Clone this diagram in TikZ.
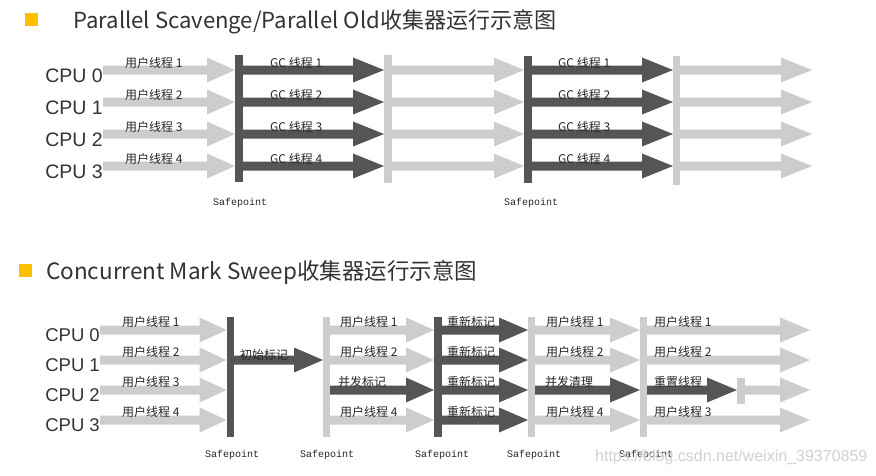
\documentclass[tikz,border=0pt]{standalone}
\usepackage{fontspec}
\setmainfont{Liberation Sans}
\newfontfamily\cjkf{Noto Sans CJK SC}
\newfontfamily\monof{Liberation Mono}
\usetikzlibrary{calc}
\definecolor{barDark}{HTML}{555555}
\definecolor{barLight}{HTML}{CDCDCD}
\definecolor{txt}{HTML}{333333}
\definecolor{bulletc}{HTML}{FFC000}
% \farrow[headlen]{from anchor}{to anchor}{row coordinate}{colour}
\newcommand\farrow[5][29]{%
  \path (#2 |- #4) coordinate (fas) (#3 |- #4) coordinate (fae);
  \fill[#5] ($(fas)+(0,-4.5)$) -- ($(fae)+(-#1,-4.5)$) -- ($(fae)+(-#1,-12.5)$) -- (fae)
    -- ($(fae)+(-#1,12.5)$) -- ($(fae)+(-#1,4.5)$) -- ($(fas)+(0,4.5)$) -- cycle;}
\tikzset{
  bar/.style={inner sep=0pt, outer sep=0pt, minimum width=#1, draw=none},
  darkbar/.style={bar=8pt, fill=barDark},
  lightbar/.style={bar=8pt, fill=barLight},
  cpu/.style={anchor=base east, inner sep=0pt, text=black!80, font=\fontsize{19.5}{22}\selectfont},
  cpub/.style={cpu, font=\fontsize{18.5}{21}\selectfont},
  lab/.style={anchor=west, inner sep=0pt, text=black!85, font=\cjkf\fontsize{12}{14}\selectfont},
  safe/.style={anchor=base west, inner sep=0pt, text=black!85, font=\monof\fontsize{10}{12}\selectfont},
  title/.style={anchor=base west, inner sep=0pt, text=txt},
  bulletsq/.style={fill=bulletc, draw=none, inner sep=0pt, minimum size=13pt},
}
\begin{document}
\begin{tikzpicture}[x=1pt,y=-1pt]
\useasboundingbox (0,0) rectangle (876,475);
\fill[white] (0,0) rectangle (876,475);

% ---------- titles ----------
\node[bulletsq] (bu1) at (31.5,19.5) {};
\node[title, font=\cjkf\fontsize{22.1}{26}\selectfont] (ti1) at (73,28) {Parallel Scavenge/Parallel Old收集器运行示意图};
\node[bulletsq] (bu2) at (25.5,270) {};
\node[title, font=\cjkf\fontsize{22.5}{27}\selectfont] (ti2) at (46,279) {Concurrent Mark Sweep收集器运行示意图};

% ---------- top diagram ----------
\coordinate (a0) at (0,70);
\coordinate (a1) at (0,102);
\coordinate (a2) at (0,134);
\coordinate (a3) at (0,166);
\coordinate (tend) at (812,0);

\node[cpu] (tc0) at (103,82) {CPU 0};
\node[cpu] (tc1) at (103,114) {CPU 1};
\node[cpu] (tc2) at (103,146) {CPU 2};
\node[cpu] (tc3) at (103,178) {CPU 3};

\node[darkbar, minimum height=127pt] (t1) at (239,118.5) {};
\node[lightbar, minimum height=128pt] (t2) at (388,119) {};
\node[darkbar, minimum height=127pt] (t3) at (528,119.5) {};
\node[lightbar, minimum height=129pt, minimum width=7pt] (t4) at (676.5,120.5) {};

\foreach \r/\c in {a0/tc0,a1/tc1,a2/tc2,a3/tc3}{
  \farrow[28]{\c.east}{t1.west}{\r}{barLight}
  \farrow[31]{t1.east}{t2.west}{\r}{barDark}
  \farrow[30]{t2.east}{t3.west}{\r}{barLight}
  \farrow[31]{t3.east}{t4.west}{\r}{barDark}
  \farrow[31]{t4.east}{tend}{\r}{barLight}
}
% redraw bars on top
\node[darkbar, minimum height=127pt] at (t1) {};
\node[lightbar, minimum height=128pt] at (t2) {};
\node[darkbar, minimum height=127pt] at (t3) {};
\node[lightbar, minimum height=129pt, minimum width=7pt] at (t4) {};

\foreach \i/\y in {1/63,2/95,3/127,4/159}{
  \node[lab] (tu\i) at (125,\y) {用户线程 \i};
  \node[lab] (tg\i) at (270,\y) {GC 线程 \i};
  \node[lab] (th\i) at (558,\y) {GC 线程 \i};
}
\node[safe] (ts1) at (213,205) {Safepoint};
\node[safe] (ts2) at (504,205) {Safepoint};

% ---------- bottom diagram ----------
\coordinate (c0) at (0,330);
\coordinate (c1) at (0,360);
\coordinate (c2) at (0,390);
\coordinate (c3) at (0,420);
\coordinate (bend) at (810,0);

\node[cpub] (bc0) at (100,341) {CPU 0};
\node[cpub] (bc1) at (100,371) {CPU 1};
\node[cpub] (bc2) at (100,401) {CPU 2};
\node[cpub] (bc3) at (100,431) {CPU 3};

\node[darkbar, minimum height=120pt, minimum width=7pt] (b1) at (230,377) {};
\node[lightbar, minimum height=120pt, minimum width=7pt] (b2) at (326.5,377) {};
\node[darkbar, minimum height=120pt] (b3) at (438,377) {};
\node[lightbar, minimum height=120pt, minimum width=7pt] (b4) at (531.5,377) {};
\node[lightbar, minimum height=120pt, minimum width=7pt] (b5) at (643.5,377) {};
\node[lightbar, minimum height=26pt] (bs) at (741,391) {};

\foreach \r/\c in {c0/bc0,c1/bc1,c2/bc2,c3/bc3}{
  \farrow[27]{\c.east}{b1.west}{\r}{barLight}
  \farrow[29]{b3.east}{b4.west}{\r}{barDark}
}
\farrow[29]{b1.east}{b2.west}{c1}{barDark}
\foreach \r in {c0,c1,c3}{
  \farrow[28]{b2.east}{b3.west}{\r}{barLight}
  \farrow[30]{b4.east}{b5.west}{\r}{barLight}
  \farrow[30]{b5.east}{bend}{\r}{barLight}
}
\farrow[28]{b2.east}{b3.west}{c2}{barDark}
\farrow[30]{b4.east}{b5.west}{c2}{barDark}
\farrow[30]{b5.east}{bs.west}{c2}{barDark}
\farrow[30]{bs.east}{bend}{c2}{barLight}

% bars on top
\node[darkbar, minimum height=120pt, minimum width=7pt] at (b1) {};
\node[lightbar, minimum height=120pt, minimum width=7pt] at (b2) {};
\node[darkbar, minimum height=120pt] at (b3) {};
\node[lightbar, minimum height=120pt, minimum width=7pt] at (b4) {};
\node[lightbar, minimum height=120pt, minimum width=7pt] at (b5) {};
\node[lightbar, minimum height=26pt] at (bs) {};

\foreach \i/\y in {1/322,2/352,3/382,4/412}{
  \node[lab] (bu\i) at (122,\y) {用户线程 \i};
  \node[lab] (br\i) at (447,\y) {重新标记};
}
\node[lab] (bi) at (240,355) {初始标记};
\node[lab] (bm1) at (340,322) {用户线程 1};
\node[lab] (bm2) at (340,352) {用户线程 2};
\node[lab] (bm3) at (338,382) {并发标记};
\node[lab] (bm4) at (340,412) {用户线程 4};
\node[lab] (bn1) at (546,322) {用户线程 1};
\node[lab] (bn2) at (546,352) {用户线程 2};
\node[lab] (bn3) at (545,382) {并发清理};
\node[lab] (bn4) at (546,412) {用户线程 4};
\node[lab] (bo1) at (654,322) {用户线程 1};
\node[lab] (bo2) at (654,352) {用户线程 2};
\node[lab] (bo3) at (654,382) {重置线程};
\node[lab] (bo4) at (654,412) {用户线程 3};

\node[safe] (bs1) at (205,457) {Safepoint};
\node[safe] (bs2) at (300,457) {Safepoint};
\node[safe] (bs3) at (415,457) {Safepoint};
\node[safe] (bs4) at (507,457) {Safepoint};
\node[safe] (bs5) at (619,457) {Safepoint};

\node[anchor=base west, inner sep=0pt, text=black!18, font=\fontsize{16}{18}\selectfont] (wm) at (595,461) {https://blog.csdn.net/weixin\_39370859};
\end{tikzpicture}
\end{document}
